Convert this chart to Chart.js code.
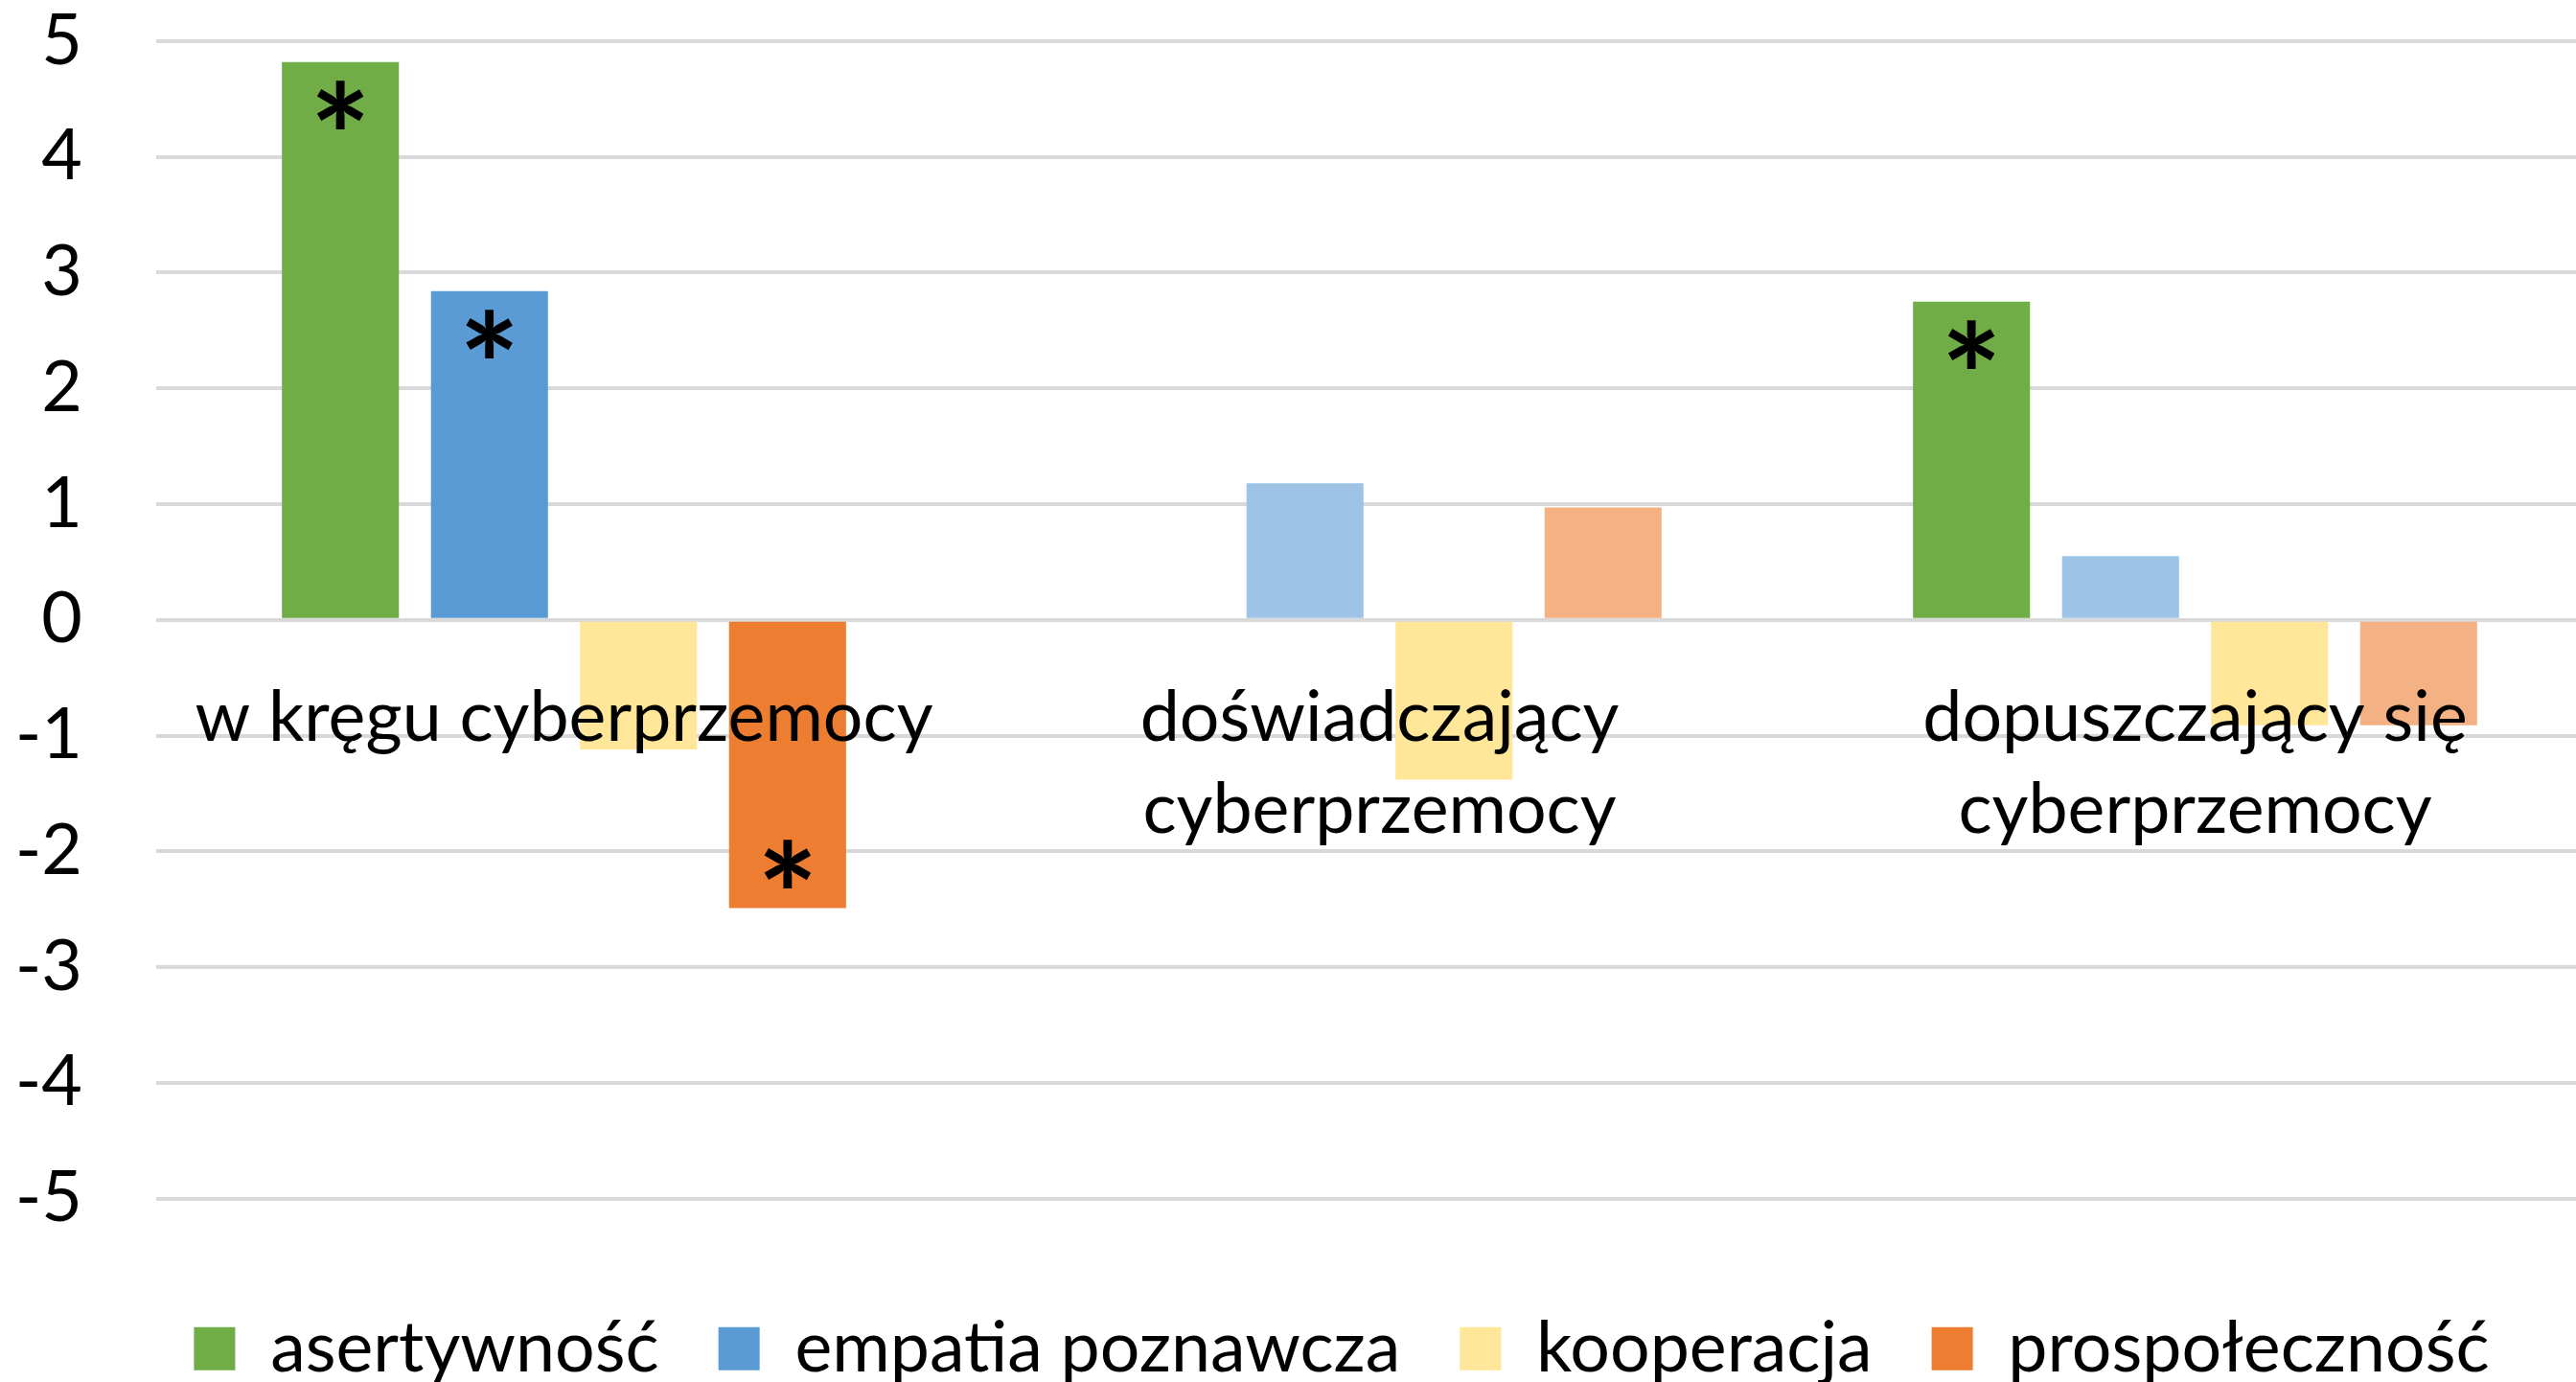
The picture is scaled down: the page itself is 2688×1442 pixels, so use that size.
<!DOCTYPE html>
<html><head><meta charset="utf-8">
<script src="https://cdn.jsdelivr.net/npm/chart.js@4"></script>
<style>html,body{margin:0;padding:0;background:#fff;overflow:hidden;width:2688px;height:1442px}#wrap{width:2716px;height:1454px;position:absolute;left:0;top:0}</style>
</head><body><div id="wrap"><canvas id="c"></canvas></div>
<script>
// ---- data ----
const categories = [['w kręgu cyberprzemocy'], ['doświadczający', 'cyberprzemocy'], ['dopuszczający się', 'cyberprzemocy']];
const seriesNames = ['asertywność', 'empatia poznawcza', 'kooperacja', 'prospołeczność'];
const asertywnosc = [4.82, null, 2.75];
const empatiaPoznawcza = [2.84, 1.18, 0.55];
const kooperacja = [-1.12, -1.38, -0.91];
const prospolecznosc = [-2.49, 0.97, -0.91];
// significance markers (*)
const sigAsertywnosc = [true, false, true];
const sigEmpatia = [true, false, false];
const sigKooperacja = [false, false, false];
const sigProspolecznosc = [true, false, false];
const yTickValues = [5, 4, 3, 2, 1, 0, -1, -2, -3, -4, -5];

// ---- styles ----
const strongColors = ['#70AD47', '#5B9BD5', '#FFE699', '#ED7D31'];
const lightColors = ['#70AD47', '#9DC3E6', '#FFE699', '#F4B183'];
const FONT = 'Lato';
const FS = 73.5;

const seriesData = [asertywnosc, empatiaPoznawcza, kooperacja, prospolecznosc];
const seriesSig = [sigAsertywnosc, sigEmpatia, sigKooperacja, sigProspolecznosc];

const datasets = seriesData.map((d, i) => ({
  label: seriesNames[i],
  data: d,
  sig: seriesSig[i],
  backgroundColor: ctx => (ctx.type === 'data' && !seriesSig[i][ctx.dataIndex]) ? lightColors[i] : strongColors[i],
  borderWidth: 0,
  categoryPercentage: 0.731,
  barPercentage: 0.785
}));

const asteriskPlugin = {
  id: 'asterisks',
  afterDatasetsDraw(chart) {
    const ctx = chart.ctx;
    ctx.save();
    ctx.font = 'bold 150px ' + FONT;
    ctx.fillStyle = '#000';
    ctx.textAlign = 'center';
    ctx.textBaseline = 'alphabetic';
    const m = ctx.measureText('*');
    const glyphMid = (m.actualBoundingBoxAscent - m.actualBoundingBoxDescent) / 2;
    chart.data.datasets.forEach((ds, i) => {
      const meta = chart.getDatasetMeta(i);
      meta.data.forEach((bar, j) => {
        if (!ds.sig[j] || ds.data[j] == null) return;
        const v = ds.data[j];
        const yc = v >= 0 ? bar.y + 45 : bar.y - 46;
        ctx.fillText('*', bar.x, yc + glyphMid);
      });
    });
    ctx.restore();
  }
};

// shift the legend row slightly right, as in the original layout
const legendShift = {
  id: 'legendShift',
  afterLayout(chart) {
    if (chart.legend) { chart.legend.left += 42; chart.legend.right += 42; }
  }
};

new Chart(document.getElementById('c'), {
  type: 'bar',
  data: { labels: categories, datasets },
  plugins: [asteriskPlugin, legendShift],
  options: {
    responsive: true,
    maintainAspectRatio: false,
    animation: false,
    devicePixelRatio: 1,
    layout: { padding: { top: 43, right: 0, bottom: 0, left: 0 } },
    plugins: {
      tooltip: { enabled: false },
      legend: {
        position: 'bottom',
        title: { display: true, text: '', font: { size: 10, lineHeight: 1 }, padding: { top: 48, bottom: 0 } },
        labels: {
          boxWidth: 43, boxHeight: 45, padding: 62,
          color: '#000',
          font: { family: FONT, size: FS }
        }
      }
    },
    scales: {
      x: {
        type: 'category',
        position: { y: 0 },
        offset: true,
        grid: { display: false, drawTicks: false },
        border: { display: false },
        ticks: {
          z: 1,
          color: '#000', font: { family: FONT, size: FS, lineHeight: 1.306 },
          padding: 55, maxRotation: 0, minRotation: 0, autoSkip: false
        }
      },
      y: {
        min: -5, max: 5,
        afterBuildTicks(scale) { scale.ticks = yTickValues.map(v => ({ value: v })); },
        grid: { color: '#D9D9D9', lineWidth: 4, drawTicks: true, tickLength: 77, tickColor: 'rgba(0,0,0,0)' },
        border: { display: false },
        ticks: { color: '#000', font: { family: FONT, size: FS, lineHeight: 1 }, padding: 0 },
        afterFit(scale) { scale.width = 163; }
      }
    }
  }
});
</script>
</body></html>
